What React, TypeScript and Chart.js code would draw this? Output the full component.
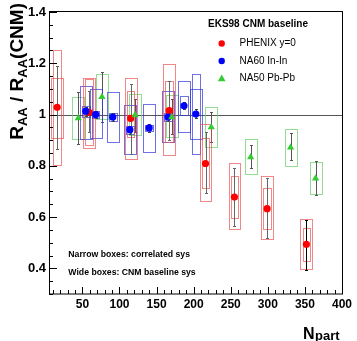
import React, { useEffect, useRef } from "react";
import { Chart, registerables } from "chart.js";
Chart.register(...registerables);

const xTickValues = [50, 100, 150, 200, 250, 300, 350, 400];
const xTickLabels = ["50", "100", "150", "200", "250", "300", "350", "400"];
const yTickValues = [0.4, 0.6, 0.8, 1.0, 1.2, 1.4];
const yTickLabels = ["0.4", "0.6", "0.8", "1", "1.2", "1.4"];

const phenixNpart = [16, 59, 115, 167, 216, 255, 299, 352];
const phenixRatio = [1.028, 1.009, 0.985, 1.015, 0.809, 0.678, 0.633, 0.494];
const phenixErrLo = [0.864, 0.93, 0.848, 0.899, 0.693, 0.565, 0.517, 0.393];
const phenixErrHi = [1.19, 1.09, 1.121, 1.131, 0.932, 0.793, 0.751, 0.59];
const phenixCorrLo = [0.805, 0.883, 0.912, 0.893, 0.713, 0.597, 0.552, 0.43];
const phenixCorrHi = [1.25, 1.137, 1.09, 1.129, 0.908, 0.762, 0.713, 0.558];
const phenixCnmLo = [0.907, 0.87, 0.825, 0.841, 0.664, 0.552, 0.513, 0.397];
const phenixCnmHi = [1.142, 1.144, 1.144, 1.198, 0.964, 0.812, 0.76, 0.593];

const na60Npart = [54.6, 68, 91, 114, 140, 165.5, 187, 203];
const na60Ratio = [1.013, 1.0, 0.99, 0.941, 0.948, 0.99, 1.034, 1.002];
const na60ErrLo = [0.995, 0.985, 0.975, 0.925, 0.933, 0.975, 1.02, 0.985];
const na60ErrHi = [1.03, 1.015, 1.005, 0.957, 0.963, 1.005, 1.05, 1.02];
const na60CorrLo = [0.99, 0.985, 0.975, 0.925, 0.935, 0.975, 0.998, 0.848];
const na60CorrHi = [1.035, 1.015, 1.005, 0.955, 0.96, 1.005, 1.073, 1.157];
const na60CnmLo = [0.906, 0.91, 0.893, 0.848, 0.854, 0.893, 0.932, 0.906];
const na60CnmHi = [1.112, 1.099, 1.088, 1.037, 1.041, 1.09, 1.131, 1.099];

const na50Npart = [44.5, 76.4, 121, 170.5, 223.7, 276.8, 330.7, 364.4];
const na50Ratio = [0.986, 1.069, 0.998, 0.99, 0.951, 0.834, 0.872, 0.751];
const na50ErrLo = [0.886, 0.97, 0.93, 0.925, 0.893, 0.793, 0.822, 0.687];
const na50ErrHi = [1.088, 1.165, 1.06, 1.06, 1.011, 0.883, 0.928, 0.817];
const na50SysLo = [0.903, 0.983, 0.919, 0.912, 0.874, 0.767, 0.8, 0.69];
const na50SysHi = [1.067, 1.16, 1.082, 1.077, 1.03, 0.906, 0.944, 0.816];

const legendTitle = "EKS98 CNM baseline";
const seriesNames = ["PHENIX y=0", "NA60 In-In", "NA50 Pb-Pb"];
const noteLines = ["Narrow boxes: correlated sys", "Wide boxes: CNM baseline sys"];

const RED = "#ff0000";
const BLUE = "#0000ff";
const GREEN = "#33cc33";
const RED_BOX = "rgba(235,70,70,0.65)";
const BLUE_BOX = "rgba(50,50,220,0.7)";
const GREEN_BOX = "rgba(110,210,110,0.75)";
const WIDE_HALF = 8;
const NARROW_HALF = 5;
const FONT = "'Liberation Sans', Arial, Helvetica, sans-serif";

const toPoints = (xs: number[], ys: number[]) => xs.map((v, i) => ({ x: v, y: ys[i] }));

const rootPlugin = {
  id: "rootStyle",
  beforeDatasetsDraw(chart: any) {
    const { ctx, chartArea: a, scales } = chart;
    const x = scales.x;
    const y = scales.y;
    ctx.save();
    ctx.beginPath();
    ctx.rect(a.left, a.top, a.right - a.left, a.bottom - a.top);
    ctx.clip();
    // reference line at 1
    const y1 = Math.round(y.getPixelForValue(1)) + 0.5;
    ctx.strokeStyle = "#555";
    ctx.lineWidth = 1;
    ctx.beginPath();
    ctx.moveTo(a.left, y1);
    ctx.lineTo(a.right, y1);
    ctx.stroke();

    const box = (xc: number, lo: number, hi: number, half: number, color: string) => {
      const l = Math.round(x.getPixelForValue(xc - half)) + 0.5;
      const r = Math.round(x.getPixelForValue(xc + half)) + 0.5;
      const t = Math.round(y.getPixelForValue(hi)) + 0.5;
      const b = Math.round(y.getPixelForValue(lo)) + 0.5;
      ctx.strokeStyle = color;
      ctx.lineWidth = 1;
      ctx.strokeRect(l, t, r - l, b - t);
    };
    const err = (xc: number, lo: number, hi: number, color: string) => {
      const px = Math.round(x.getPixelForValue(xc)) + 0.5;
      const t = Math.round(y.getPixelForValue(hi)) + 0.5;
      const b = Math.round(y.getPixelForValue(lo)) + 0.5;
      ctx.strokeStyle = color;
      ctx.lineWidth = 1;
      ctx.beginPath();
      ctx.moveTo(px, t);
      ctx.lineTo(px, b);
      ctx.moveTo(px - 1.5, t);
      ctx.lineTo(px + 1.5, t);
      ctx.moveTo(px - 1.5, b);
      ctx.lineTo(px + 1.5, b);
      ctx.stroke();
    };

    na50Npart.forEach((v, i) => {
      box(v, na50SysLo[i], na50SysHi[i], WIDE_HALF, GREEN_BOX);
      err(v, na50ErrLo[i], na50ErrHi[i], "#555");
    });
    na60Npart.forEach((v, i) => {
      box(v, na60CnmLo[i], na60CnmHi[i], WIDE_HALF, BLUE_BOX);
      box(v, na60CorrLo[i], na60CorrHi[i], NARROW_HALF, BLUE_BOX);
      err(v, na60ErrLo[i], na60ErrHi[i], "#444");
    });
    phenixNpart.forEach((v, i) => {
      box(v, phenixCnmLo[i], phenixCnmHi[i], WIDE_HALF, RED_BOX);
      box(v, phenixCorrLo[i], phenixCorrHi[i], NARROW_HALF, RED_BOX);
      err(v, phenixErrLo[i], phenixErrHi[i], i === phenixNpart.length - 1 ? "#000" : "#666");
    });
    ctx.restore();
  },
  afterDraw(chart: any) {
    const { ctx, chartArea: a, scales } = chart;
    const x = scales.x;
    const y = scales.y;
    ctx.save();
    // frame
    ctx.strokeStyle = "#000";
    ctx.lineWidth = 1;
    ctx.strokeRect(a.left + 0.5, a.top - 0.5, a.right - a.left, a.bottom - a.top + 0.5);
    // y ticks
    ctx.beginPath();
    for (let i = 6; i <= 28; i++) {
      const v = i * 0.05;
      const py = Math.round(y.getPixelForValue(v)) + 0.5;
      const len = i % 4 === 0 ? 8 : 4;
      ctx.moveTo(a.left, py);
      ctx.lineTo(a.left + len, py);
    }
    // x ticks
    for (let v = 10; v <= 400; v += 10) {
      const px = Math.round(x.getPixelForValue(v)) + 0.5;
      const len = v % 50 === 0 ? 7 : 4;
      ctx.moveTo(px, a.bottom);
      ctx.lineTo(px, a.bottom - len);
    }
    ctx.stroke();

    // y title
    ctx.save();
    ctx.translate(23, 3);
    ctx.rotate(-Math.PI / 2);
    const segs = [
      { t: "R", s: 19, d: 0 },
      { t: "AA", s: 13, d: 4 },
      { t: " / ", s: 19, d: 0 },
      { t: "R", s: 19, d: 0 },
      { t: "AA", s: 13, d: 4 },
      { t: "(CNM)", s: 19, d: 0 },
    ];
    let total = 0;
    segs.forEach((g) => {
      ctx.font = `bold ${g.s}px ${FONT}`;
      total += ctx.measureText(g.t).width;
    });
    let cx = -total;
    ctx.fillStyle = "#000";
    ctx.textBaseline = "alphabetic";
    ctx.textAlign = "left";
    segs.forEach((g) => {
      ctx.font = `bold ${g.s}px ${FONT}`;
      ctx.fillText(g.t, cx, g.d);
      cx += ctx.measureText(g.t).width;
    });
    ctx.restore();

    // x title
    ctx.fillStyle = "#000";
    ctx.textAlign = "left";
    ctx.textBaseline = "alphabetic";
    ctx.font = `bold 16px ${FONT}`;
    ctx.fillText("N", 303, 338.5);
    const nw = ctx.measureText("N").width;
    ctx.font = `bold 13px ${FONT}`;
    ctx.fillText("part", 303 + nw + 0.5, 340);

    // legend
    ctx.textBaseline = "middle";
    ctx.font = `bold 10px ${FONT}`;
    ctx.fillText(legendTitle, 208, 24);
    ctx.font = `10px ${FONT}`;
    const ly = [43.5, 61, 78.5];
    seriesNames.forEach((n, i) => ctx.fillText(n, 239.5, ly[i]));
    ctx.fillStyle = RED;
    ctx.beginPath();
    ctx.arc(221.7, ly[0], 3.2, 0, Math.PI * 2);
    ctx.fill();
    ctx.fillStyle = BLUE;
    ctx.beginPath();
    ctx.arc(221.7, ly[1], 3.2, 0, Math.PI * 2);
    ctx.fill();
    ctx.fillStyle = GREEN;
    ctx.beginPath();
    ctx.moveTo(221.7, ly[2] - 4);
    ctx.lineTo(225.5, ly[2] + 2.8);
    ctx.lineTo(217.9, ly[2] + 2.8);
    ctx.closePath();
    ctx.fill();

    // notes
    ctx.fillStyle = "#000";
    ctx.font = `bold 8.7px ${FONT}`;
    ctx.fillText(noteLines[0], 68.3, 255);
    ctx.fillText(noteLines[1], 68.3, 272.7);
    ctx.restore();
  },
};

export default function App() {
  const ref = useRef<HTMLCanvasElement | null>(null);
  useEffect(() => {
    if (!ref.current) return;
    const chart = new Chart(ref.current, {
      type: "scatter",
      data: {
        datasets: [
          {
            label: seriesNames[2],
            data: toPoints(na50Npart, na50Ratio),
            pointStyle: "triangle",
            pointRadius: 4.2,
            pointBackgroundColor: GREEN,
            pointBorderWidth: 0,
            borderColor: GREEN,
          },
          {
            label: seriesNames[1],
            data: toPoints(na60Npart, na60Ratio),
            pointStyle: "circle",
            pointRadius: 3.6,
            pointBackgroundColor: BLUE,
            pointBorderWidth: 0,
            borderColor: BLUE,
          },
          {
            label: seriesNames[0],
            data: toPoints(phenixNpart, phenixRatio),
            pointStyle: "circle",
            pointRadius: 3.6,
            pointBackgroundColor: RED,
            pointBorderWidth: 0,
            borderColor: RED,
          },
        ],
      },
      options: {
        responsive: false,
        animation: false,
        devicePixelRatio: 1,
        layout: { padding: { left: 0, top: 12, right: 15, bottom: 0 } },
        plugins: { legend: { display: false }, tooltip: { enabled: false } },
        scales: {
          x: {
            type: "linear",
            min: 5,
            max: 400,
            grid: { display: false, drawTicks: false },
            border: { display: false },
            afterBuildTicks: (s: any) => {
              s.ticks = xTickValues.map((v) => ({ value: v }));
            },
            afterFit: (s: any) => {
              s.height = 47;
            },
            ticks: {
              padding: 3,
              color: "#000",
              maxRotation: 0,
              autoSkip: false,
              font: { family: FONT, weight: "bold", size: 12 },
              callback: (_v: any, i: number) => xTickLabels[i],
            },
          },
          y: {
            type: "linear",
            min: 0.3,
            max: 1.4,
            grid: { display: false, drawTicks: false },
            border: { display: false },
            afterBuildTicks: (s: any) => {
              s.ticks = yTickValues.map((v) => ({ value: v }));
            },
            afterFit: (s: any) => {
              s.width = 49;
            },
            ticks: {
              padding: 3,
              color: "#000",
              autoSkip: false,
              font: { family: FONT, weight: "bold", size: 13 },
              callback: (_v: any, i: number) => yTickLabels[i],
            },
          },
        },
      },
      plugins: [rootPlugin],
    } as any);
    return () => chart.destroy();
  }, []);
  return (
    <div style={{ position: "absolute", left: 0, top: 0, width: 357, height: 341, background: "#fff" }}>
      <canvas ref={ref} width={357} height={341} style={{ display: "block" }} />
    </div>
  );
}
